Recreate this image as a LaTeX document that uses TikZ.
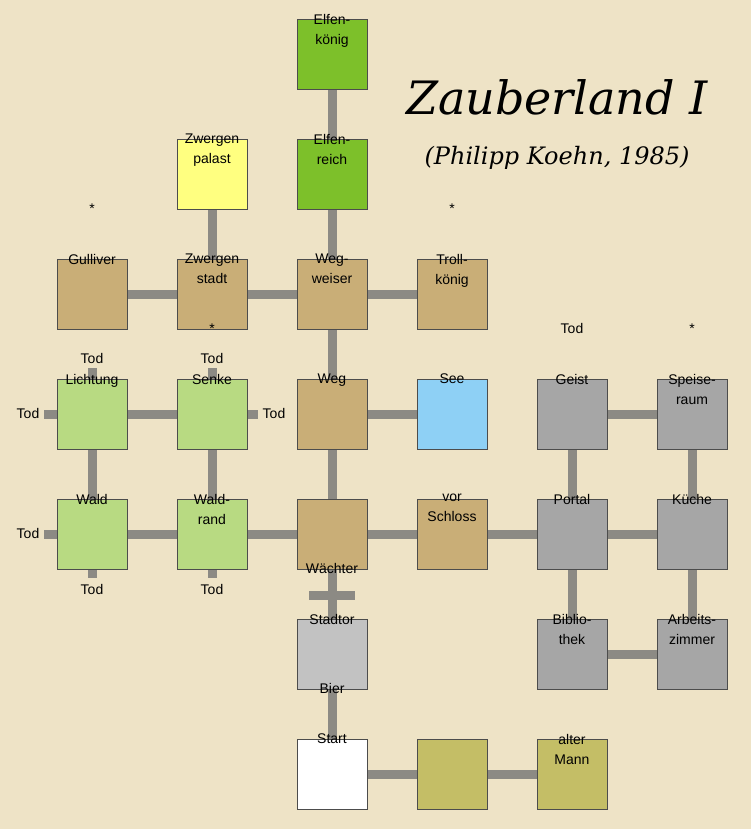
\documentclass[tikz,border=0pt]{standalone}
\usepackage{fontspec}
\setmainfont{Liberation Sans}
\newfontfamily\titlefont{DejaVu Serif}
\usetikzlibrary{backgrounds,calc}
\definecolor{bg}{HTML}{EEE3C6}
\definecolor{tan}{HTML}{C9AE77}
\definecolor{dgreen}{HTML}{7DC02A}
\definecolor{lgreen}{HTML}{B8DA82}
\definecolor{yel}{HTML}{FFFF80}
\definecolor{blu}{HTML}{8ED0F5}
\definecolor{gry}{HTML}{A6A6A6}
\definecolor{olv}{HTML}{C4BE66}
\definecolor{lgry}{HTML}{C2C2C2}
\definecolor{conn}{HTML}{8C8A84}
\tikzset{
  room/.style={draw=black!70,line width=0.6pt,minimum width=70pt,minimum height=70pt,inner sep=0,fill=#1},
  txt/.style={font=\fontsize{14}{20}\selectfont,align=center,inner sep=0,anchor=north},
  tod/.style={font=\fontsize{14}{16}\selectfont,inner sep=0},
  link/.style={conn,line width=9pt},
}
\newcommand{\myroom}[6]{%
  \node[room=#4] (#1) at (#2,#3) {};
  \node[txt] (#1t) at ($(#1.north)+(0,-5)$) {#5};
  \node[txt,anchor=center] (#1b) at ($(#1.north)+(0,-50)$) {#6};
}
\begin{document}
\begin{tikzpicture}[x=1pt,y=-1pt]
\useasboundingbox (0,0) rectangle (751,829);
\myroom{ek}{332}{54}{dgreen}{Elfen-\\könig}{}
\myroom{er}{332}{174}{dgreen}{Elfen-\\reich}{}
\myroom{zp}{212}{174}{yel}{Zwergen\\palast}{}
\myroom{gu}{92}{294}{tan}{Gulliver}{*}
\myroom{zs}{212}{294}{tan}{Zwergen\\stadt}{}
\myroom{ww}{332}{294}{tan}{Weg-\\weiser}{}
\myroom{tk}{452}{294}{tan}{Troll-\\könig}{*}
\myroom{li}{92}{414}{lgreen}{Lichtung}{}
\myroom{se}{212}{414}{lgreen}{Senke}{*}
\myroom{weg}{332}{414}{tan}{Weg}{}
\myroom{see}{452}{414}{blu}{See}{}
\myroom{ge}{572}{414}{gry}{Geist}{Tod}
\myroom{sp}{692}{414}{gry}{Speise-\\raum}{*}
\myroom{wa}{92}{534}{lgreen}{Wald}{}
\myroom{wr}{212}{534}{lgreen}{Wald-\\rand}{}
\myroom{ce}{332}{534}{tan}{}{}
\myroom{vs}{452}{534}{tan}{vor\\Schloss}{}
\myroom{po}{572}{534}{gry}{Portal}{}
\myroom{ku}{692}{534}{gry}{Küche}{}
\myroom{st}{332}{654}{lgry}{Stadtor}{Wächter}
\myroom{bi}{572}{654}{gry}{Biblio-\\thek}{}
\myroom{az}{692}{654}{gry}{Arbeits-\\zimmer}{}
\myroom{sb}{332}{774}{white}{Start}{Bier}
\myroom{ol}{452}{774}{olv}{}{}
\myroom{am}{572}{774}{olv}{alter\\Mann}{}
% Tod labels
\node[tod] (t1) at (92,358) {Tod};
\node[tod] (t2) at (28,413) {Tod};
\node[tod] (t3) at (212,358) {Tod};
\node[tod] (t4) at (274,413) {Tod};
\node[tod] (t5) at (28,533) {Tod};
\node[tod] (t6) at (92,589) {Tod};
\node[tod] (t7) at (212,589) {Tod};
\coordinate (c1) at (92,368);
\coordinate (c2) at (44,414);
\coordinate (c3) at (212,368);
\coordinate (c4) at (258,414);
\coordinate (c5) at (44,534);
\coordinate (c6) at (92,578);
\coordinate (c7) at (212,578);
\coordinate (gl) at (309,595);
\coordinate (gr) at (355,595);
% title
\node[font=\titlefont\itshape\fontsize{46}{50}\selectfont,inner sep=0] (title) at (557,97) {Zauberland I};
\node[font=\titlefont\itshape\fontsize{24}{28}\selectfont,inner sep=0] (sub) at (557,158) {(Philipp Koehn, 1985)};
\begin{scope}[on background layer]
\fill[bg] (0,0) rectangle (751,829);
\foreach \a/\b in {ek/er,er/ww,zp/zs,gu/zs,zs/ww,ww/tk,ww/weg,weg/see,li/se,li/wa,se/wr,wa/wr,wr/ce,ce/weg,ce/vs,vs/po,po/ge,ge/sp,sp/ku,po/ku,po/bi,ku/az,bi/az,ce/st,st/sb,sb/ol,ol/am}
  \draw[link] (\a.center) -- (\b.center);
\draw[link] (li.center) -- (c1);
\draw[link] (li.center) -- (c2);
\draw[link] (se.center) -- (c3);
\draw[link] (se.center) -- (c4);
\draw[link] (wa.center) -- (c5);
\draw[link] (wa.center) -- (c6);
\draw[link] (wr.center) -- (c7);
\draw[link] (gl) -- (gr);
\end{scope}
\end{tikzpicture}
\end{document}
